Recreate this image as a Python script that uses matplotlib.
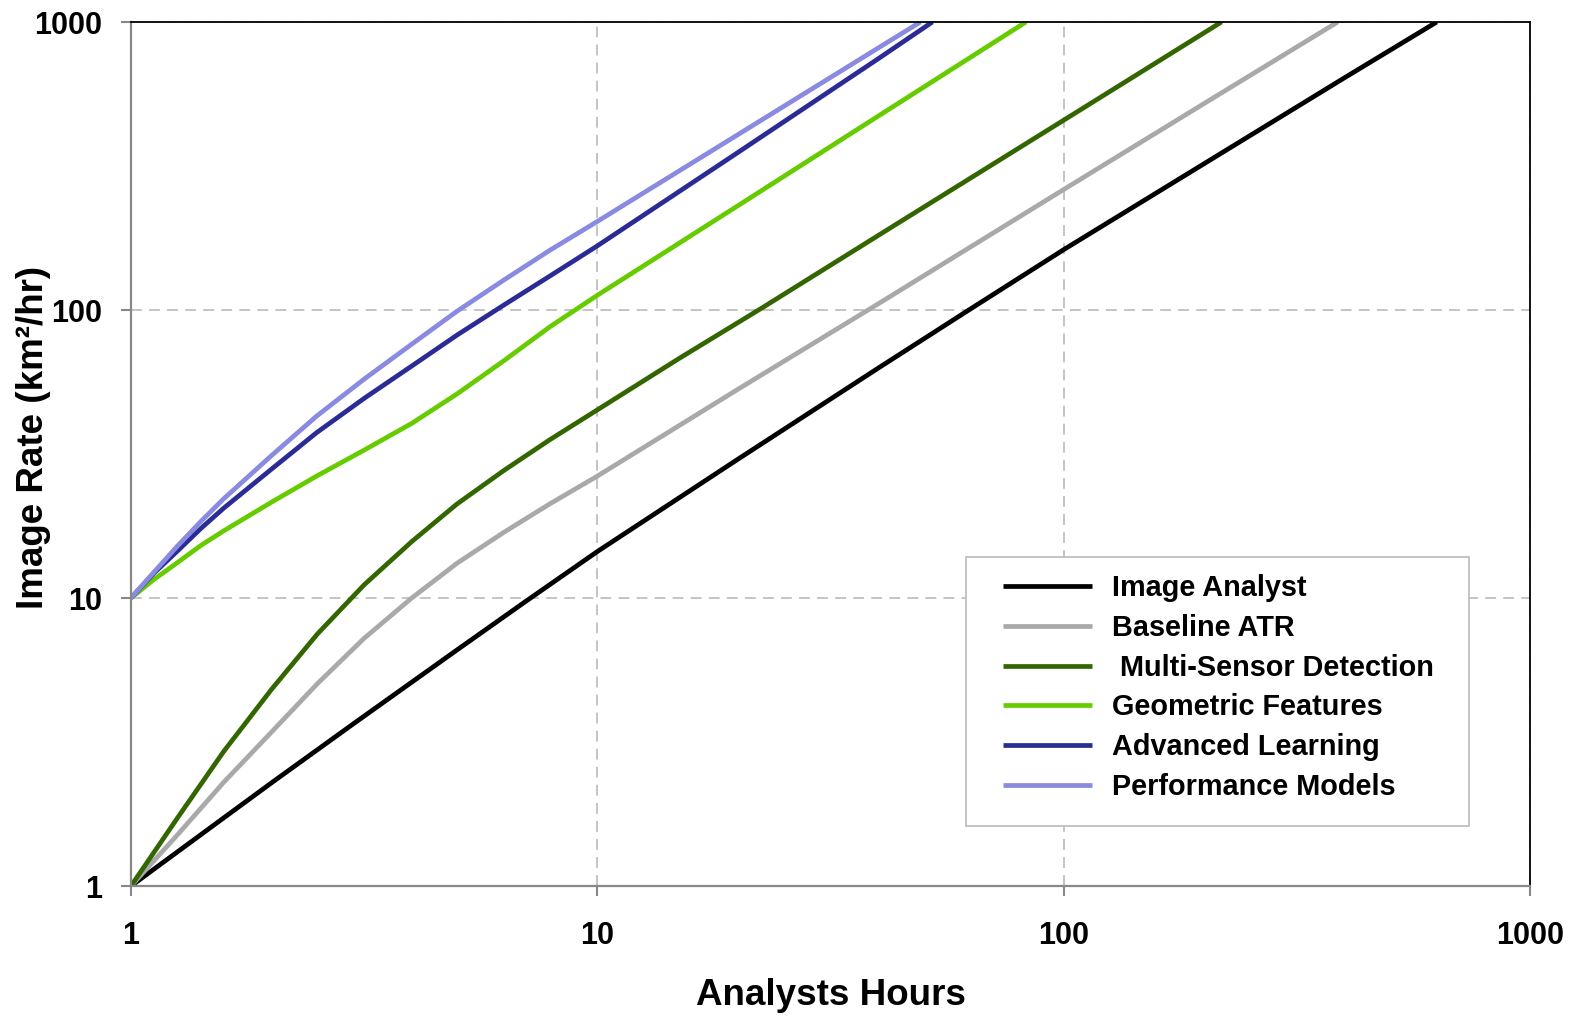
import matplotlib
matplotlib.use("Agg")
import matplotlib.pyplot as plt
from matplotlib.patches import Rectangle
from matplotlib.ticker import FixedLocator, FuncFormatter, NullLocator

plt.rcParams['font.family'] = ['Liberation Sans', 'DejaVu Sans']
plt.rcParams['font.weight'] = 'bold'

# valeurs
analyst_x = [1, 1.5, 2, 3, 5, 7, 10, 20, 40, 62, 100, 200, 400, 631]
analyst_y = [1, 1.62, 2.28, 3.66, 6.6, 9.7, 14.5, 30.3, 62.8, 99, 162, 322, 640, 1000]

baseline_x = [1, 1.26, 1.58, 2, 2.51, 3.16, 4, 5, 6.3, 7.9, 10, 20, 40, 100, 200, 387]
baseline_y = [1, 1.51, 2.29, 3.42, 5.04, 7.24, 10, 13.2, 16.9, 21.2, 26.5, 53, 105, 262, 521, 1000]

multi_x = [1, 1.26, 1.58, 2, 2.51, 3.16, 4, 5, 6.3, 7.9, 10, 15, 22.4, 43.2, 100, 218]
multi_y = [1, 1.73, 2.93, 4.81, 7.5, 11.1, 15.7, 21.2, 27.7, 35.4, 45, 68, 101, 196, 456, 1000]

geo_x = [1, 1.12, 1.26, 1.41, 1.58, 1.78, 2, 2.5, 3.16, 4, 5, 6.3, 7.9, 10, 20, 40, 83]
geo_y = [10, 11.6, 13.3, 15.2, 17.1, 19.2, 21.5, 26.5, 32.6, 40.4, 51.1, 66.6, 87.3, 112.5,
         230, 471, 1000]

adv_x = [1, 1.12, 1.26, 1.41, 1.58, 1.78, 2, 2.5, 3.16, 4, 5, 6.3, 7.9, 10, 20, 40, 52.3]
adv_y = [10, 12.2, 14.6, 17.4, 20.5, 24.0, 28.0, 37.5, 49.3, 63.9, 81.8, 104, 131, 167,
         352, 745, 1000]

perf_x = [1, 1.12, 1.26, 1.41, 1.58, 1.78, 2, 2.5, 3.16, 4, 5, 6.3, 7.9, 10, 20, 40, 49.3]
perf_y = [10, 12.3, 15.2, 18.4, 22.1, 26.3, 31.2, 42.8, 57.5, 76.1, 99, 127, 161, 203,
          406, 812, 1000]

labels = ["Image Analyst", "Baseline ATR", " Multi-Sensor Detection",
          "Geometric Features", "Advanced Learning", "Performance Models"]
colors = ["#000000", "#A9A9A9", "#336600", "#66CC00", "#2B2B96", "#8A8AE0"]
ticks = [1, 10, 100, 1000]

series = [(analyst_x, analyst_y), (baseline_x, baseline_y), (multi_x, multi_y),
          (geo_x, geo_y), (adv_x, adv_y), (perf_x, perf_y)]

fig = plt.figure(figsize=(15.75, 10.18), dpi=100)
ax = fig.add_axes([131 / 1575, 1 - 886 / 1018, 1399 / 1575, 864 / 1018])

for (xs, ys), lab, col in zip(series, labels, colors):
    ax.plot(xs, ys, color=col, lw=3.4, label=lab, solid_capstyle='butt',
            solid_joinstyle='round')

ax.set_xscale('log')
ax.set_yscale('log')
ax.set_xlim(1, 1000)
ax.set_ylim(1, 1000)

fmt = FuncFormatter(lambda v, p: '%g' % v)
for axis in (ax.xaxis, ax.yaxis):
    axis.set_major_locator(FixedLocator(ticks))
    axis.set_minor_locator(NullLocator())
    axis.set_major_formatter(fmt)

ax.grid(True, which='major', color='#BFBFBF', lw=1.3, ls=(0, (6, 4)))
ax.tick_params(axis='both', which='major', direction='out', length=7.5, width=1.5,
               color='#888888', labelsize=22)
ax.tick_params(axis='x', pad=18)
ax.tick_params(axis='y', pad=13)

for side in ('left', 'bottom'):
    ax.spines[side].set_color('#888888')
    ax.spines[side].set_linewidth(1.6)
for side in ('top', 'right'):
    ax.spines[side].set_color('#000000')
    ax.spines[side].set_linewidth(1.3)

ax.set_xlabel('Analysts Hours', fontsize=26.5, fontweight='bold')
ax.set_ylabel('Image Rate (km²/hr)', fontsize=26.5, fontweight='bold')
ax.xaxis.set_label_coords(0.5, -0.106)
ax.yaxis.set_label_coords(-0.057, 0.519)

# cadre de la légende
ax.add_patch(Rectangle((0.5966, 0.0694), 0.3600, 0.3117, transform=ax.transAxes,
                       fill=True, facecolor='white', edgecolor='#BFBFBF', lw=1.3, zorder=4))
leg = ax.legend(loc='upper left', bbox_to_anchor=(0.623, 0.3612), frameon=False,
                fontsize=20.8, handlelength=3.1, handletextpad=0.7, labelspacing=0.41,
                borderpad=0, borderaxespad=0)
leg.set_zorder(5)
for t in leg.get_texts():
    t.set_fontweight('bold')

fig.savefig('out.png', dpi=100)
